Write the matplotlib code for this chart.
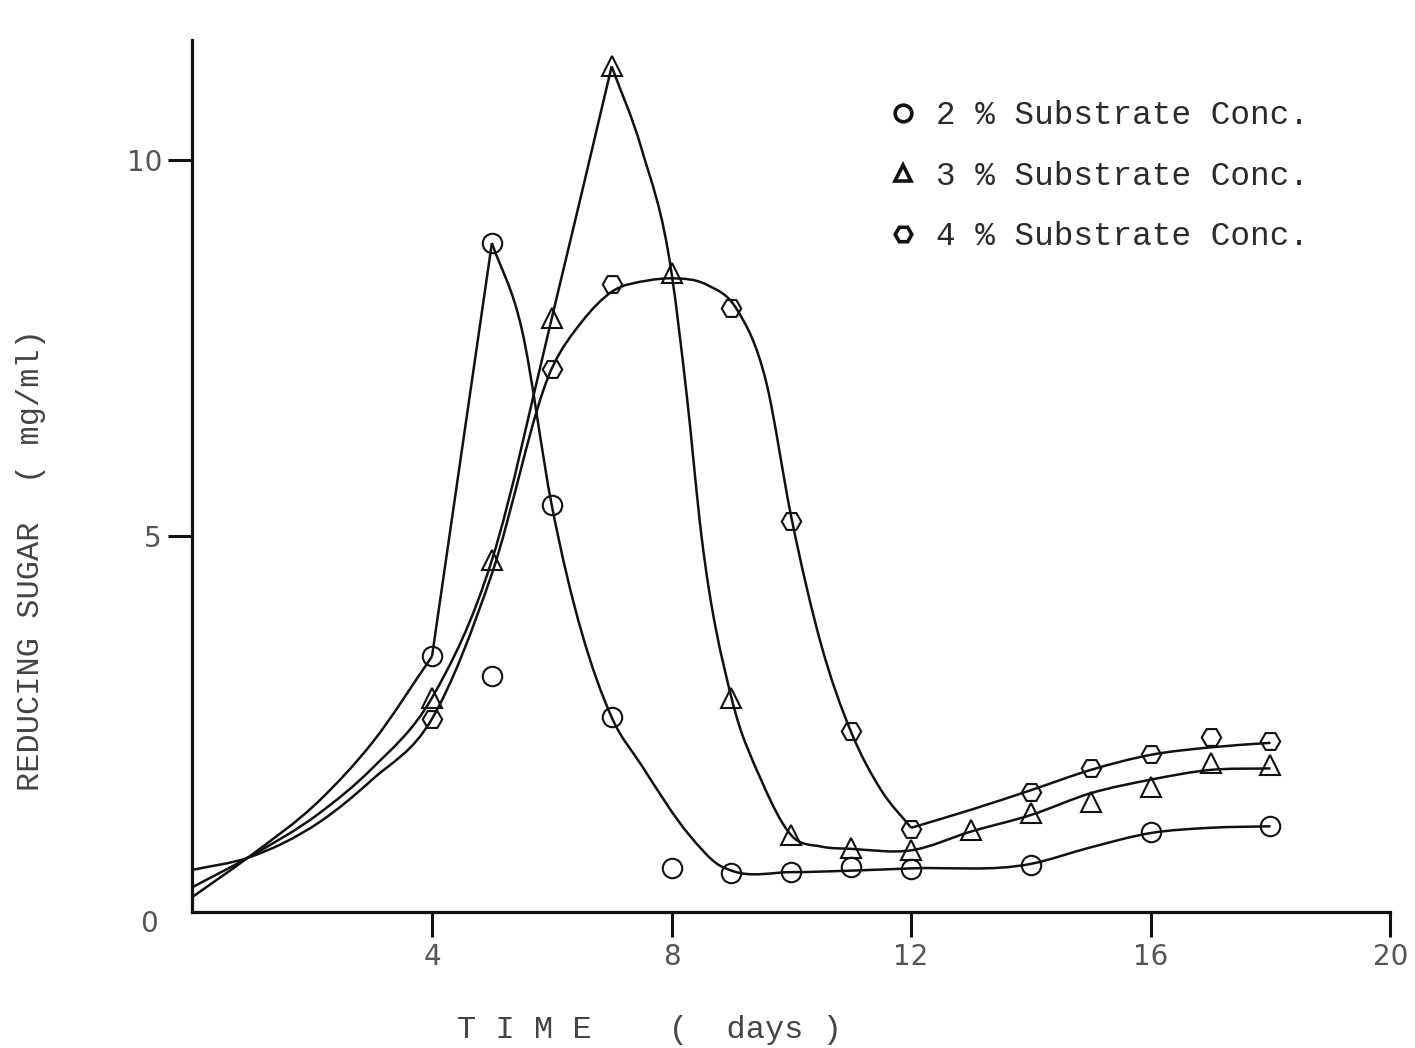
import numpy as np
import matplotlib
matplotlib.use('Agg')
import matplotlib.pyplot as plt
from matplotlib.path import Path
from matplotlib.patches import PathPatch
from matplotlib.lines import Line2D

# measured points (days, reducing sugar mg/ml)
days_2 = [4, 5, 5, 6, 7, 8, 9, 10, 11, 12, 14, 16, 18]
sugar_2 = [3.40, 8.90, 3.14, 5.41, 2.59, 0.58, 0.52, 0.53, 0.60, 0.57, 0.62, 1.06, 1.14]

days_3 = [4, 5, 6, 7, 8, 9, 10, 11, 12, 13, 14, 15, 16, 17, 18]
sugar_3 = [2.85, 4.68, 7.90, 11.25, 8.50, 2.85, 1.02, 0.85, 0.82, 1.09, 1.32, 1.46, 1.66, 1.98, 1.95]

days_4 = [4, 6, 7, 9, 10, 11, 12, 14, 15, 16, 17, 18]
sugar_4 = [2.57, 7.23, 8.35, 8.03, 5.20, 2.41, 1.10, 1.60, 1.91, 2.10, 2.33, 2.27]

# hand drawn fitted curves, split at the sharp corners
curve_2 = [
    ([0, 0.92, 2.13, 3, 4], [0.20, 0.72, 1.49, 2.25, 3.40]),
    ([4, 5], [3.40, 8.90]),
    ([5, 5.5, 6, 7, 7.5, 8.3, 8.8, 9, 10, 11, 12, 14, 15, 16, 17, 18],
     [8.90, 7.75, 5.41, 2.59, 1.95, 1.02, 0.62, 0.55, 0.53, 0.55, 0.58, 0.64, 0.86, 1.05, 1.12, 1.14]),
]
curve_3 = [
    ([0, 0.92, 2.13, 3, 4, 5, 6, 7],
     [0.33, 0.72, 1.32, 1.91, 2.85, 4.68, 7.90, 11.25]),
    ([7, 7.5, 8, 8.25, 8.5, 9, 9.5, 10, 10.5, 11, 12, 13, 14, 15, 16, 17, 18],
     [11.25, 10.15, 8.50, 6.90, 5.00, 2.85, 1.75, 1.02, 0.87, 0.84, 0.82, 1.07, 1.29, 1.58, 1.76, 1.89, 1.91]),
]
curve_4 = [
    ([0, 0.92, 2.13, 3, 4, 5, 6, 6.5, 7, 7.6, 8, 8.6, 9.08, 9.58, 10, 10.5, 11, 11.5, 12],
     [0.56, 0.72, 1.20, 1.76, 2.57, 4.50, 7.23, 7.85, 8.25, 8.40, 8.43, 8.34, 8.03, 7.05, 5.25, 3.55, 2.39, 1.62, 1.12]),
    ([12, 13, 14, 15, 16, 17, 18], [1.12, 1.36, 1.62, 1.89, 2.09, 2.19, 2.25]),
]

labels = ['2 % Substrate Conc.', '3 % Substrate Conc.', '4 % Substrate Conc.']
markers = ['o', '^', 'H']


def smooth_path(xs, ys):
    # cubic through the knots (three point slopes), handed to matplotlib as bezier segments
    xs = np.asarray(xs, float)
    ys = np.asarray(ys, float)
    h = np.diff(xs)
    d = np.diff(ys) / h
    m = np.zeros(len(xs))
    m[0] = d[0]
    m[-1] = d[-1]
    for k in range(1, len(xs) - 1):
        m[k] = (h[k] * d[k - 1] + h[k - 1] * d[k]) / (h[k - 1] + h[k])
    verts = [(xs[0], ys[0])]
    codes = [Path.MOVETO]
    for k in range(len(xs) - 1):
        verts += [(xs[k] + h[k] / 3, ys[k] + m[k] * h[k] / 3),
                  (xs[k + 1] - h[k] / 3, ys[k + 1] - m[k + 1] * h[k] / 3),
                  (xs[k + 1], ys[k + 1])]
        codes += [Path.CURVE4] * 3
    return Path(verts, codes)


fig = plt.figure(figsize=(14.15, 10.48), dpi=100)
fig.patch.set_facecolor('white')
ax = fig.add_axes([0.136, 0.1298, 0.8465, 0.832])

# curves
for curve in (curve_2, curve_3, curve_4):
    for xs, ys in curve:
        ax.add_patch(PathPatch(smooth_path(xs, ys), fill=False, edgecolor='#111111', lw=1.8, zorder=2))

# points
for days, sugar, mk in zip((days_2, days_3, days_4), (sugar_2, sugar_3, sugar_4), markers):
    ax.plot(days, sugar, ls='none', marker=mk, markersize=14, mfc='none', mec='#111111', mew=1.5, zorder=3)

ax.set_xlim(0, 20)
ax.set_ylim(0, 11.6)
ax.spines['top'].set_visible(False)
ax.spines['right'].set_visible(False)
ax.spines['left'].set_linewidth(2.3)
ax.spines['bottom'].set_linewidth(2.3)
ax.spines['left'].set_color('#111111')
ax.spines['bottom'].set_color('#111111')

ax.set_xticks([4, 8, 12, 16, 20])
ax.set_yticks([5, 10])
ax.tick_params(axis='x', direction='out', length=18, width=2.2, pad=4, labelsize=20, labelcolor='#555555', color='#111111')
ax.tick_params(axis='y', direction='out', length=17, width=2.2, pad=5, labelsize=20, labelcolor='#555555', color='#111111')
ax.annotate('0', xy=(0, 0), xycoords='data', xytext=(-31, -9), textcoords='offset points',
            ha='center', va='center', fontsize=20, color='#555555')

mono = 'Liberation Mono'
fig.text(0.459, 0.017, 'T I M E    (  days )', fontsize=23, family=mono, color='#444444', ha='center', va='center')
fig.text(0.022, 0.466, 'REDUCING SUGAR  ( mg/ml)', fontsize=23, family=mono, color='#444444',
         rotation=90, ha='center', va='center')

# legend
handles = [Line2D([], [], ls='none', marker=mk, markersize=12, mfc='none', mec='#111111', mew=2.6) for mk in markers]
leg = ax.legend(handles, labels, loc='upper left', bbox_to_anchor=(887 / 1415, 1 - 100 / 1048),
                bbox_transform=fig.transFigure,
                frameon=False, borderpad=0, borderaxespad=0, handlelength=1.0, handletextpad=0.5,
                labelspacing=0.91, prop={'family': mono, 'size': 23.5})
for t in leg.get_texts():
    t.set_color('#2a2a2a')

fig.savefig('out.png', dpi=100, facecolor='white')
